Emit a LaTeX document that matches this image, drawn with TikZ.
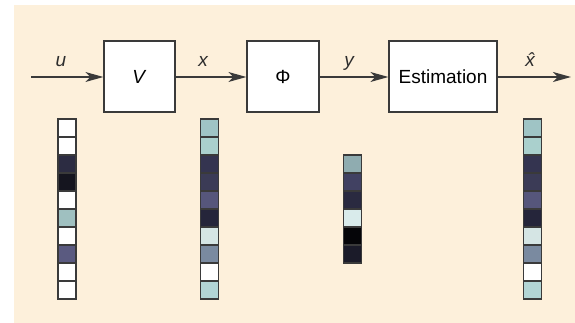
\documentclass[tikz,border=0pt]{standalone}
\usepackage{fontspec}
\setmainfont{Liberation Sans}
\usetikzlibrary{arrows.meta}
\definecolor{bg}{HTML}{FDF0DB}
\definecolor{edge}{HTML}{3A3A3A}
\definecolor{cA}{HTML}{2C2C42}
\definecolor{cB}{HTML}{15151F}
\definecolor{cC}{HTML}{9FC0C0}
\definecolor{cD}{HTML}{5A5A80}
\definecolor{xA}{HTML}{9FC4C5}
\definecolor{xB}{HTML}{AAD0CD}
\definecolor{xC}{HTML}{343450}
\definecolor{xD}{HTML}{3B3B56}
\definecolor{xE}{HTML}{56567B}
\definecolor{xF}{HTML}{25253A}
\definecolor{xG}{HTML}{D5E5E4}
\definecolor{xH}{HTML}{7A8AA0}
\definecolor{xI}{HTML}{FFFFFF}
\definecolor{xJ}{HTML}{B2D5D5}
\definecolor{yA}{HTML}{8FACB0}
\definecolor{yB}{HTML}{414162}
\definecolor{yC}{HTML}{2A2A40}
\definecolor{yD}{HTML}{D9EBEB}
\definecolor{yE}{HTML}{050508}
\definecolor{yF}{HTML}{1B1B29}
\begin{document}
\begin{tikzpicture}[x=1pt,y=-1pt,
  blk/.style={draw=edge, fill=white, line width=1.3pt, minimum height=71pt, inner sep=0pt, font=\fontsize{19}{22}\selectfont},
  conn/.style={draw=edge, line width=1.3pt, -{Stealth[length=18pt,width=10pt,inset=5pt]}},
  lbl/.style={font=\fontsize{19}{22}\selectfont\itshape, anchor=base, text=edge!80!black},
  cell/.style={draw=edge, line width=1.2pt, minimum size=18pt, inner sep=0pt}]
\useasboundingbox (0,0) rectangle (575,323);
\fill[bg] (14,5) rectangle (575,323);
% blocks
\node[blk, minimum width=71pt] (V) at (139.5,76.5) {\textit{V}};
\node[blk, minimum width=72pt] (Phi) at (283,76.5) {Φ};
\node[blk, minimum width=108pt] (Est) at (443,76.5) {Estimation};
\coordinate (in) at (31,77);
\coordinate (out) at (571,77);
\draw[conn] (in) -- (V.west |- in);
\draw[conn] (V.east |- in) -- (Phi.west |- in);
\draw[conn] (Phi.east |- in) -- (Est.west |- in);
\draw[conn] (Est.east |- in) -- (out);
% labels
\node[lbl] (lu) at (61,67) {u};
\node[lbl] (lx) at (203,67) {x};
\node[lbl] (ly) at (349,67) {y};
\node[lbl] (lxh) at (530,67) {\^{x}};
% columns
\foreach \c [count=\i] in {white,white,cA,cB,white,cC,white,cD,white,white}
  \node[cell, fill=\c] (u\i) at (67,110+18*\i) {};
\foreach \c [count=\i] in {xA,xB,xC,xD,xE,xF,xG,xH,xI,xJ}
  \node[cell, fill=\c] (x\i) at (209.5,110+18*\i) {};
\foreach \c [count=\i] in {yA,yB,yC,yD,yE,yF}
  \node[cell, fill=\c] (y\i) at (352.5,146+18*\i) {};
\foreach \c [count=\i] in {xA,xB,xC,xD,xE,xF,xG,xH,xI,xJ}
  \node[cell, fill=\c] (xh\i) at (532.5,110+18*\i) {};
\end{tikzpicture}
\end{document}
